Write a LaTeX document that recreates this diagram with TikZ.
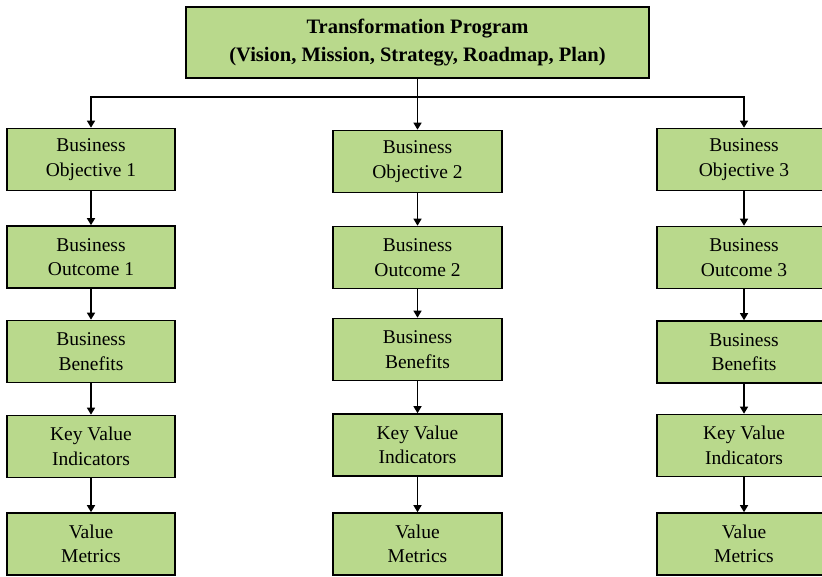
\documentclass[tikz,border=0pt]{standalone}
\usepackage{fontspec}
\setmainfont{Liberation Serif}
\usetikzlibrary{arrows.meta}
\definecolor{boxgreen}{RGB}{185,217,140}
\begin{document}
\begin{tikzpicture}[x=1pt,y=-1pt,
  box/.style={draw=black, line width=1.6pt, fill=boxgreen, inner sep=0pt,
    minimum height=62pt, align=center,
    font=\fontsize{19.5}{24.5}\selectfont},
  topbox/.style={box, minimum width=463pt, minimum height=71pt,
    font=\fontsize{20.5}{28.5}\selectfont\bfseries},
  arr/.style={line width=1.3pt, -{Triangle[length=7pt,width=8pt]}}]
\useasboundingbox (0,0) rectangle (822,576);
\node[topbox] (top) at (417.5,42.5) {Transformation Program\\(Vision, Mission, Strategy, Roadmap, Plan)};
% column 1
\node[box, minimum width=168pt] (o1) at (91,159.5) {Business\\Objective 1};
\node[box, minimum width=168pt] (u1) at (91,257) {Business\\Outcome 1};
\node[box, minimum width=168pt] (b1) at (91,351.5) {Business\\Benefits};
\node[box, minimum width=168pt] (k1) at (91,446.5) {Key Value\\Indicators};
\node[box, minimum width=168pt] (m1) at (91,544) {Value\\Metrics};
% column 2
\node[box, minimum width=169pt] (o2) at (417.5,161.5) {Business\\Objective 2};
\node[box, minimum width=169pt] (u2) at (417.5,257.5) {Business\\Outcome 2};
\node[box, minimum width=169pt] (b2) at (417.5,349.5) {Business\\Benefits};
\node[box, minimum width=169pt] (k2) at (417.5,445) {Key Value\\Indicators};
\node[box, minimum width=169pt] (m2) at (417.5,544) {Value\\Metrics};
% column 3
\node[box, minimum width=174pt] (o3) at (744,159.5) {Business\\Objective 3};
\node[box, minimum width=174pt] (u3) at (744,257.5) {Business\\Outcome 3};
\node[box, minimum width=174pt] (b3) at (744,352) {Business\\Benefits};
\node[box, minimum width=174pt] (k3) at (744,445.5) {Key Value\\Indicators};
\node[box, minimum width=174pt] (m3) at (744,544) {Value\\Metrics};
% connectors
\coordinate (bar) at (417.5,97);
\draw[arr] (top.south) -- (o2.north);
\draw[arr] (bar) -| (o1.north);
\draw[arr] (bar) -| (o3.north);
\foreach \c in {1,2,3}{
  \draw[arr] (o\c.south) -- (u\c.north);
  \draw[arr] (u\c.south) -- (b\c.north);
  \draw[arr] (b\c.south) -- (k\c.north);
  \draw[arr] (k\c.south) -- (m\c.north);
}
\end{tikzpicture}
\end{document}
